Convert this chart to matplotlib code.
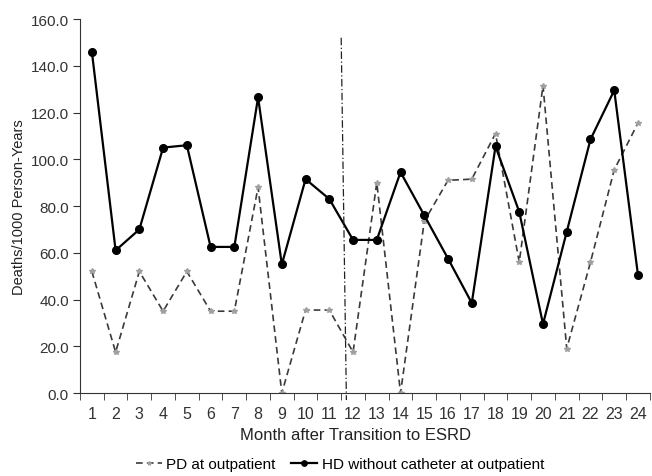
import matplotlib.pyplot as plt
import numpy as np

months = list(range(1, 25))
pd_rates = [52, 17.5, 52, 35, 52, 35, 35, 88, 0, 35.5, 35.5, 17.5,
            90, 0, 73.5, 91, 91.5, 111, 56, 131.5, 19, 56, 95.5, 115.5]
hd_rates = [146, 61, 70, 105, 106, 62.5, 62.5, 126.5, 55, 91.5, 83, 65.5,
            65.5, 94.5, 76, 57.5, 38.5, 105.5, 77.5, 29.5, 69, 108.5, 129.5, 50.5]
y_ticks = np.arange(0, 161, 20)

# dash-dot marker line near month 12 (slightly tilted in the original)
split_x = [11.5, 11.72]
split_y = [152, -3]

plt.rcParams['font.family'] = ['Liberation Sans', 'DejaVu Sans']
fig = plt.figure(figsize=(6.52, 4.77), dpi=100)
ax = fig.add_axes([0.1227, 0.174, 0.874, 0.784])

ax.plot(months, pd_rates, linestyle=(0, (4, 2.5)), color='#3a3a3a', linewidth=1.2,
        marker='*', markersize=4, markerfacecolor='#a0a0a0', markeredgecolor='#a0a0a0',
        label='PD at outpatient')
ax.plot(months, hd_rates, linestyle='-', color='black', linewidth=1.6,
        marker='o', markersize=5.5, label='HD without catheter at outpatient')
ax.plot(split_x, split_y, linestyle=(0, (6, 2, 1, 2)), color='#222222', linewidth=0.9,
        clip_on=False)

ax.set_xlim(0.5, 24.5)
ax.set_ylim(0, 160)
ax.set_xticks(months)
ax.set_xticks(np.arange(0.5, 25, 1), minor=True)
ax.tick_params(axis='x', which='major', length=0, labelsize=11.5, colors='#333333', pad=9)
ax.tick_params(axis='x', which='minor', length=5, direction='out', color='#333333')
ax.set_yticks(y_ticks)
ax.set_yticklabels([f'{v:.1f}' for v in y_ticks])
ax.tick_params(axis='y', length=5, direction='out', labelsize=11, colors='#333333', pad=3)

for s in ['top', 'right']:
    ax.spines[s].set_visible(False)
for s in ['left', 'bottom']:
    ax.spines[s].set_color('#333333')

ax.set_xlabel('Month after Transition to ESRD', fontsize=12, color='#222222')
ax.xaxis.set_label_coords(0.484, -0.09)
ax.set_ylabel('Deaths/1000 Person-Years', fontsize=10.5, color='#222222')
ax.yaxis.set_label_coords(-0.095, 0.5)

fig.legend(loc='center', bbox_to_anchor=(340 / 652, 1 - 465 / 477), ncol=2, frameon=False,
           fontsize=11, handlelength=1.7, columnspacing=1.0, handletextpad=0.3,
           markerscale=0.7)

fig.savefig('out.png', dpi=100)
